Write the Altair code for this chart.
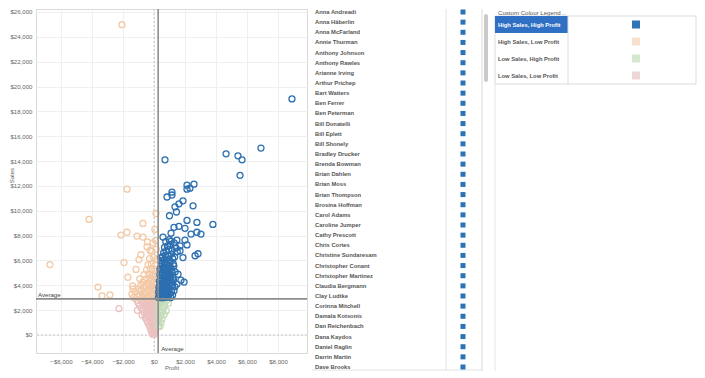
import altair as alt
import pandas as pd

FONT = "Liberation Sans"

segments = ["High Sales, High Profit", "High Sales, Low Profit",
            "Low Sales, High Profit", "Low Sales, Low Profit"]
point_colors = ["#2c6fb0", "#f3c9a6", "#c5dcba", "#ebc1c1"]
legend_colors = ["#2f75b5", "#f7e0cc", "#d6e7cf", "#f0d6d6"]

AVG_SALES = 2910
AVG_PROFIT = 270

x_ticks = [-6000, -4000, -2000, 0, 2000, 4000, 6000, 8000]
y_ticks = [0, 2000, 4000, 6000, 8000, 10000, 12000, 14000, 16000,
           18000, 20000, 22000, 24000, 26000]

# (profit, sales)
hh_points = [
    (8900, 19000), (6900, 15050), (4650, 14580), (5420, 14420), (5680, 14100),
    (5550, 12850), (710, 14100), (1160, 11500), (2130, 12060), (2320, 11820),
    (2580, 12140), (2130, 11740), (840, 11110), (1160, 11270), (1355, 10320),
    (1610, 10560), (1870, 10800), (2520, 10400), (2130, 9220), (2770, 9060),
    (3800, 8900), (1290, 8670), (1610, 8750), (2000, 8590), (2390, 8120),
    (2770, 8270), (3030, 8120), (580, 7880), (1100, 8200), (1100, 7560),
    (1480, 7640), (2000, 7640), (1680, 7170), (2130, 7250), (2650, 6380),
    (2840, 6540), (1870, 6230), (1680, 6780), (1420, 7010), (900, 7170),
    (450, 6230), (710, 5830), (1740, 4410), (1940, 4260), (1550, 4890),
    (390, 5280), (1000, 9600), (1450, 9900),
    (290, 3010), (410, 3080), (530, 2990), (660, 3120), (790, 3040), (930, 3150),
    (1080, 3020), (350, 3250), (480, 3300), (610, 3220), (740, 3290), (880, 3260),
    (1020, 3340), (1200, 3210), (300, 3450), (420, 3520), (560, 3410), (690, 3580),
    (820, 3470), (970, 3620), (1130, 3500), (1290, 3560), (370, 3690), (510, 3740),
    (650, 3660), (790, 3770), (940, 3700), (320, 3850), (460, 3920), (600, 3880),
    (740, 3990), (880, 3840), (1030, 3950), (1190, 4010), (1350, 3890), (400, 4120),
    (540, 4180), (680, 4090), (830, 4210), (990, 4150), (1160, 4230), (1480, 4100),
    (350, 4330), (490, 4400), (640, 4310), (780, 4460), (930, 4380), (1090, 4520),
    (1260, 4420), (420, 4620), (570, 4680), (720, 4570), (870, 4710), (1030, 4640),
    (1220, 4590), (380, 4850), (530, 4930), (680, 4820), (830, 4980), (1000, 4900),
    (1170, 5050), (450, 5150), (610, 5210), (770, 5100), (940, 5230), (1110, 5180),
    (1360, 5080), (430, 5380), (600, 5450), (760, 5340), (920, 5520), (1090, 5410),
    (1280, 5560), (520, 5700), (690, 5760), (860, 5660), (1040, 5820), (1250, 5720),
    (480, 5980), (650, 6050), (830, 6110), (1010, 5950), (1200, 6180), (560, 6300),
    (740, 6420), (920, 6350), (1120, 6510), (1330, 6280), (620, 6600), (780, 6750),
    (960, 6880), (1180, 6820), (1500, 6700), (680, 7050), (870, 7150), (1080, 7300),
    (1300, 7420), (760, 7520), (980, 7680),
]

hl_points = [
    (-2065, 24980), (-1740, 11740), (-4190, 9300), (-6710, 5670), (-2130, 8040),
    (-1740, 8270), (-1100, 7960), (-710, 7880), (-710, 8980), (130, 9770),
    (-60, 7410), (-1935, 5830), (-1680, 4650), (-1160, 5280), (-970, 6070),
    (-840, 6460), (-3610, 3860), (-3350, 3150), (-2840, 3230), (-1350, 3700),
    (-450, 7100), (-250, 6800), (60, 8500),
    (-1300, 3020), (-1050, 3100), (-800, 2990), (-560, 3060), (-330, 3000),
    (-120, 3110), (80, 3050), (200, 2980), (-1420, 3280), (-920, 3240), (-650, 3330),
    (-400, 3210), (-180, 3300), (30, 3260), (190, 3350), (-1200, 3480), (-820, 3560),
    (-540, 3450), (-300, 3520), (-90, 3600), (130, 3470), (-1000, 3720), (-680, 3800),
    (-420, 3680), (-220, 3760), (0, 3840), (170, 3710), (-1380, 3950), (-860, 4000),
    (-560, 3920), (-330, 4060), (-110, 3980), (140, 4100), (-720, 4250), (-430, 4180),
    (-210, 4320), (40, 4220), (210, 4150), (-920, 4520), (-570, 4480), (-270, 4600),
    (-60, 4450), (160, 4560), (-640, 4850), (-330, 4920), (-120, 4780), (90, 4880),
    (-480, 5250), (-230, 5330), (-20, 5180), (180, 5300), (-380, 5650), (-170, 5720),
    (70, 5600), (-280, 6150), (-30, 6250), (200, 6100), (-130, 6750), (150, 6900),
    (-420, 7500), (100, 7600),
]

lh_points = [
    (300, 2820), (450, 2760), (610, 2850), (800, 2790), (320, 2520), (500, 2580),
    (690, 2490), (930, 2550), (290, 2230), (470, 2190), (650, 2260), (340, 1920),
    (540, 1880), (790, 1950), (300, 1620), (460, 1580), (660, 1650), (330, 1310),
    (510, 1280), (300, 1020), (450, 990), (290, 720), (380, 690),
]

ll_points = [
    (-2260, 2130),
    (-1100, 2800), (-830, 2760), (-560, 2830), (-360, 2740), (-160, 2810), (40, 2770),
    (200, 2850), (-1020, 2580), (-730, 2620), (-470, 2550), (-270, 2640), (-60, 2590),
    (150, 2610), (-930, 2380), (-660, 2420), (-420, 2350), (-210, 2440), (-10, 2390),
    (180, 2410), (-820, 2180), (-570, 2230), (-360, 2160), (-160, 2250), (50, 2200),
    (210, 2170), (-1070, 1990), (-720, 2020), (-460, 1950), (-260, 2040), (-60, 1980),
    (140, 2010), (-620, 1790), (-410, 1830), (-210, 1760), (-10, 1810), (170, 1780),
    (-760, 1600), (-510, 1570), (-300, 1640), (-110, 1590), (90, 1620), (-560, 1390),
    (-360, 1420), (-160, 1370), (40, 1410), (200, 1380), (-460, 1190), (-260, 1220),
    (-60, 1170), (140, 1210), (-400, 990), (-210, 1020), (-20, 970), (140, 1000),
    (-300, 790), (-110, 820), (90, 780), (-250, 590), (-60, 620), (110, 580),
    (-190, 400), (-20, 420), (90, 380), (-150, 210), (-10, 230), (70, 190),
    (-90, 60), (20, 40),
]

names = [
    "Anna Andreadi", "Anna Häberlin", "Anna McFarland", "Annie Thurman",
    "Anthony Johnson", "Anthony Rawles", "Arianne Irving", "Arthur Prichep",
    "Bart Watters", "Ben Ferrer", "Ben Peterman", "Bill Donatelli", "Bill Eplett",
    "Bill Shonely", "Bradley Drucker", "Brenda Bowman", "Brian Dahlen", "Brian Moss",
    "Brian Thompson", "Brosina Hoffman", "Carol Adams", "Caroline Jumper",
    "Cathy Prescott", "Chris Cortes", "Christine Sundaresam", "Christopher Conant",
    "Christopher Martinez", "Claudia Bergmann", "Clay Ludtke", "Corinna Mitchell",
    "Damala Kotsonis", "Dan Reichenbach", "Dana Kaydos", "Daniel Raglin",
    "Darrin Martin", "Dave Brooks",
]

# ---------- scatter ----------
rows = []
for seg, pts in [(segments[3], ll_points), (segments[2], lh_points),
                 (segments[1], hl_points), (segments[0], hh_points)]:
    for p, s in pts:
        rows.append({"profit": p, "sales": s, "segment": seg})
df = pd.DataFrame(rows)
one = pd.DataFrame({"k": [0]})
ref_df = pd.DataFrame({"zero": [0], "avg_sales": [AVG_SALES], "avg_profit": [AVG_PROFIT]})

x_scale = alt.Scale(domain=[-7610, 9870], nice=False, zero=False)
y_scale = alt.Scale(domain=[-1449, 26241], nice=False, zero=False)
axis_common = dict(labelFontSize=6.1, labelColor="#666666", labelFont=FONT,
                   titleFont=FONT, titleFontSize=6.1, titleColor="#666666",
                   titleFontWeight="normal", ticks=False, domain=False, grid=True,
                   gridColor="#efefef", gridWidth=1, format="$,.0f",
                   labelOverlap=False, labelFlush=False, labelBound=False)
x_axis = alt.Axis(values=x_ticks, title="Profit", labelPadding=5, titlePadding=0,
                  **axis_common)
y_axis = alt.Axis(values=y_ticks, title="Sales", labelPadding=4, titleX=-22,
                  titleY=166, **axis_common)

points = alt.Chart(df).mark_point(filled=False, size=36, strokeWidth=1.3, opacity=1).encode(
    x=alt.X("profit:Q", scale=x_scale, axis=x_axis),
    y=alt.Y("sales:Q", scale=y_scale, axis=y_axis),
    color=alt.Color("segment:N", scale=alt.Scale(domain=segments, range=point_colors),
                    legend=None),
)

base_ref = alt.Chart(ref_df)
zero_x = base_ref.mark_rule(color="#c4c4c4", strokeDash=[2, 2], strokeWidth=1).encode(
    x=alt.X("zero:Q", scale=x_scale, axis=x_axis))
zero_y = base_ref.mark_rule(color="#c4c4c4", strokeDash=[2, 2], strokeWidth=1).encode(
    y=alt.Y("zero:Q", scale=y_scale, axis=y_axis))
avg_y = base_ref.mark_rule(color="#8c8c8c", strokeWidth=1.6).encode(
    y=alt.Y("avg_sales:Q", scale=y_scale, axis=y_axis))
avg_x = base_ref.mark_rule(color="#8c8c8c", strokeWidth=1.6).encode(
    x=alt.X("avg_profit:Q", scale=x_scale, axis=x_axis))
avg_y_txt = base_ref.mark_text(align="left", baseline="bottom", font=FONT,
                               fontSize=6.1, color="#444444", dy=-1).encode(
    x=alt.value(2), y=alt.Y("avg_sales:Q", scale=y_scale, axis=y_axis),
    text=alt.value("Average"))
avg_x_txt = base_ref.mark_text(align="left", baseline="bottom", font=FONT,
                               fontSize=6.1, color="#444444", dx=3).encode(
    x=alt.X("avg_profit:Q", scale=x_scale, axis=x_axis), y=alt.value(343),
    text=alt.value("Average"))

scatter = alt.layer(zero_x, zero_y, points, avg_y, avg_x, avg_y_txt, avg_x_txt)

# ---------- name list (x relative to the plot's left edge, y to its top) ----------
names_df = pd.DataFrame({"name": names})
list_y = alt.Y("name:N", sort=None, axis=None,
               scale=alt.Scale(type="point", domain=names, range=[-2.07, 363.07],
                               padding=0.5))
name_txt = alt.Chart(names_df).mark_text(align="left", baseline="middle", font=FONT,
                                         fontSize=5.8, fontWeight="bold",
                                         color="#555555").encode(
    x=alt.value(279), y=list_y, text="name:N")
name_sq = alt.Chart(names_df).mark_square(size=25, color="#2b72b6", opacity=1).encode(
    x=alt.value(427), y=list_y)
name_list = alt.layer(name_txt, name_sq)

frame_marks = alt.layer(
    alt.Chart(one).mark_rule(color="#e2e2e2").encode(
        x=alt.value(410), y=alt.value(0), y2=alt.value(361)),
    alt.Chart(one).mark_rule(color="#d8d8d8").encode(
        x=alt.value(446), y=alt.value(0), y2=alt.value(362)),
    alt.Chart(one).mark_rule(color="#e6e6e6").encode(
        x=alt.value(459), y=alt.value(75), y2=alt.value(362)),
    alt.Chart(one).mark_rule(color="#e2e2e2").encode(
        x=alt.value(276), x2=alt.value(446), y=alt.value(361)),
    alt.Chart(one).mark_rect(color="#c9c9c9", cornerRadius=2).encode(
        x=alt.value(448), x2=alt.value(452), y=alt.value(5), y2=alt.value(73)),
    alt.Chart(one).mark_text(align="left", baseline="middle", font=FONT, fontSize=6.1,
                             color="#555555").encode(
        x=alt.value(462), y=alt.value(3.6), text=alt.value("Custom Colour Legend ..")),
)

# ---------- custom legend ----------
leg_df = pd.DataFrame({"label": segments})
leg_y = alt.Y("label:N", sort=None, axis=None,
              scale=alt.Scale(type="band", domain=segments, range=[7, 75],
                              paddingInner=0, paddingOuter=0))
highlight = alt.Chart(leg_df).transform_filter(
    alt.datum.label == segments[0]).mark_rect(color="#3070c4").encode(
    x=alt.value(459), x2=alt.value(532), y=leg_y)
table_box = alt.Chart(leg_df).transform_filter(
    alt.datum.label == segments[0]).mark_rect(fillOpacity=0, stroke="#dcdcdc",
                                              strokeWidth=1).encode(
    x=alt.value(459), x2=alt.value(660), y=alt.value(7), y2=alt.value(75))
col_div = alt.Chart(leg_df).transform_filter(
    alt.datum.label == segments[0]).mark_rule(color="#dcdcdc").encode(
    x=alt.value(532), y=alt.value(7), y2=alt.value(75))
leg_txt = alt.Chart(leg_df).mark_text(align="left", baseline="middle", font=FONT,
                                      fontSize=5.8, fontWeight="bold").encode(
    x=alt.value(462), y=leg_y, text="label:N",
    color=alt.condition(alt.datum.label == segments[0], alt.value("white"),
                        alt.value("#555555")))
leg_sq = alt.Chart(leg_df).mark_square(size=64, opacity=1).encode(
    x=alt.value(600), y=leg_y,
    color=alt.Color("label:N", scale=alt.Scale(domain=segments, range=legend_colors),
                    legend=None))
legend = alt.layer(table_box, highlight, col_div, leg_txt, leg_sq)

chart = alt.layer(scatter, frame_marks, name_list, legend).resolve_scale(
    y="independent", color="independent"
).properties(
    width=271, height=344,
    padding=0,
    background="white",
    view=alt.ViewBackground(stroke="#dadada", strokeWidth=1),
)

chart.save("out.html", embed_options={"renderer": "svg", "actions": False})
